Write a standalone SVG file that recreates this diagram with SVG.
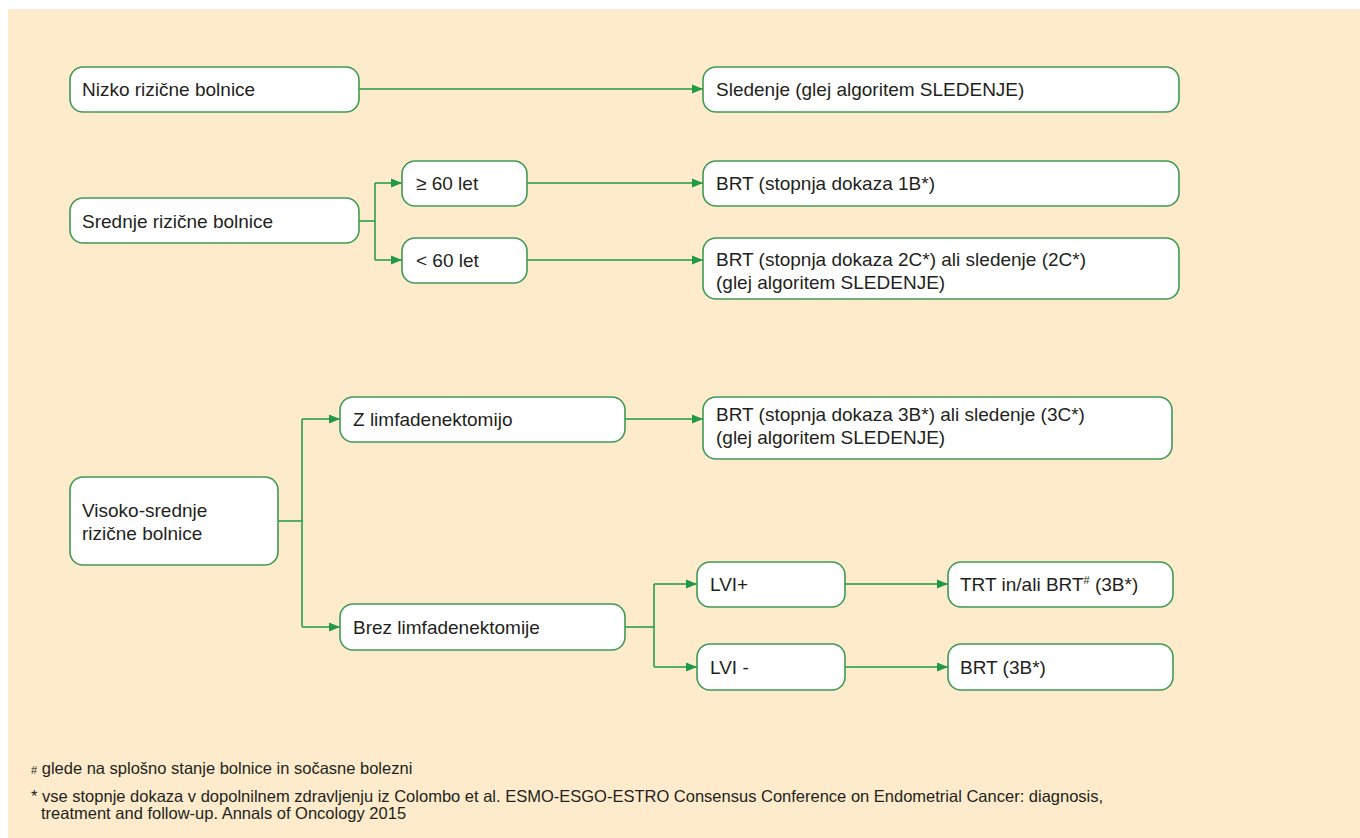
<svg xmlns="http://www.w3.org/2000/svg" width="1360" height="838" viewBox="0 0 1360 838">
<defs>
<marker id="ah" markerWidth="12" markerHeight="10" refX="11" refY="5" orient="auto" markerUnits="userSpaceOnUse">
<path d="M0,0.5 L11,5 L0,9.5 Z" fill="#1f9a45"/>
</marker>
<style>
.bg{fill:#fdebcb}
.box{fill:#ffffff;stroke:#3f9a55;stroke-width:1.6}
.t{font-family:"Liberation Sans",Arial,sans-serif;font-size:19px;fill:#231f20}
.fn{font-family:"Liberation Sans",Arial,sans-serif;font-size:16.5px;fill:#231f20}
.c{fill:none;stroke:#1f9a45;stroke-width:1.5}
</style>
</defs>
<rect x="0" y="0" width="1360" height="838" fill="#ffffff"/>
<rect class="bg" x="8" y="9" width="1352" height="829"/>

<g id="connectors">
<path class="c" d="M359,89 H703" marker-end="url(#ah)"/>
<path class="c" d="M359,221 H375 M375,183 V260 M375,183 H402" marker-end="url(#ah)"/>
<path class="c" d="M375,260 H402" marker-end="url(#ah)"/>
<path class="c" d="M527,183 H703" marker-end="url(#ah)"/>
<path class="c" d="M527,260 H703" marker-end="url(#ah)"/>
<path class="c" d="M278,521 H302 M302,419 V627 M302,419 H340" marker-end="url(#ah)"/>
<path class="c" d="M302,627 H340" marker-end="url(#ah)"/>
<path class="c" d="M625,419 H703" marker-end="url(#ah)"/>
<path class="c" d="M625,627 H654 M654,584 V667 M654,584 H697" marker-end="url(#ah)"/>
<path class="c" d="M654,667 H697" marker-end="url(#ah)"/>
<path class="c" d="M845,584 H948" marker-end="url(#ah)"/>
<path class="c" d="M845,667 H948" marker-end="url(#ah)"/>
</g>

<g id="n-nizko"><rect class="box" x="70" y="67" width="289" height="45" rx="13"/><text class="t" x="82" y="96">Nizko rizične bolnice</text></g>
<g id="n-sledenje"><rect class="box" x="703" y="67" width="476" height="45" rx="13"/><text class="t" x="716" y="96">Sledenje (glej algoritem SLEDENJE)</text></g>
<g id="n-srednje"><rect class="box" x="70" y="198" width="289" height="45" rx="13"/><text class="t" x="82" y="228">Srednje rizične bolnice</text></g>
<g id="n-ge60"><rect class="box" x="402" y="161" width="125" height="45" rx="13"/><text class="t" x="416" y="190">≥ 60 let</text></g>
<g id="n-lt60"><rect class="box" x="402" y="238" width="125" height="45" rx="13"/><text class="t" x="416" y="267">&lt; 60 let</text></g>
<g id="n-brt1b"><rect class="box" x="703" y="161" width="476" height="45" rx="13"/><text class="t" x="716" y="190">BRT (stopnja dokaza 1B*)</text></g>
<g id="n-brt2c"><rect class="box" x="703" y="238" width="476" height="61" rx="13"/><text class="t" x="716" y="266">BRT (stopnja dokaza 2C*)  ali sledenje (2C*)</text><text class="t" x="716" y="289">(glej algoritem SLEDENJE)</text></g>
<g id="n-visoko"><rect class="box" x="70" y="477" width="208" height="88" rx="13"/><text class="t" x="82" y="517">Visoko-srednje</text><text class="t" x="82" y="540">rizične bolnice</text></g>
<g id="n-zlimf"><rect class="box" x="340" y="397" width="285" height="45" rx="13"/><text class="t" x="353" y="426">Z limfadenektomijo</text></g>
<g id="n-brt3b3c"><rect class="box" x="703" y="397" width="469" height="62" rx="13"/><text class="t" x="716" y="421">BRT (stopnja dokaza 3B*) ali sledenje (3C*)</text><text class="t" x="716" y="444">(glej algoritem SLEDENJE)</text></g>
<g id="n-brez"><rect class="box" x="340" y="604" width="285" height="46" rx="13"/><text class="t" x="353" y="634">Brez limfadenektomije</text></g>
<g id="n-lvip"><rect class="box" x="697" y="562" width="148" height="45" rx="13"/><text class="t" x="710" y="591">LVI+</text></g>
<g id="n-lvim"><rect class="box" x="697" y="644" width="148" height="46" rx="13"/><text class="t" x="710" y="674">LVI -</text></g>
<g id="n-trt"><rect class="box" x="948" y="562" width="225" height="45" rx="13"/><text class="t" x="960" y="591">TRT in/ali BRT<tspan font-size="11" dy="-7">#</tspan><tspan dy="7"> (3B*)</tspan></text></g>
<g id="n-brt3b"><rect class="box" x="948" y="644" width="225" height="46" rx="13"/><text class="t" x="960" y="674">BRT (3B*)</text></g>

<g id="footnotes">
<text class="fn" x="31" y="774"><tspan font-size="11">#</tspan> glede na splošno stanje bolnice in sočasne bolezni</text>
<text class="fn" x="31" y="802">* vse stopnje dokaza v dopolnilnem zdravljenju iz Colombo et al. ESMO-ESGO-ESTRO Consensus Conference on Endometrial Cancer: diagnosis,</text>
<text class="fn" x="41" y="819">treatment and follow-up. Annals of Oncology 2015</text>
</g>
</svg>
